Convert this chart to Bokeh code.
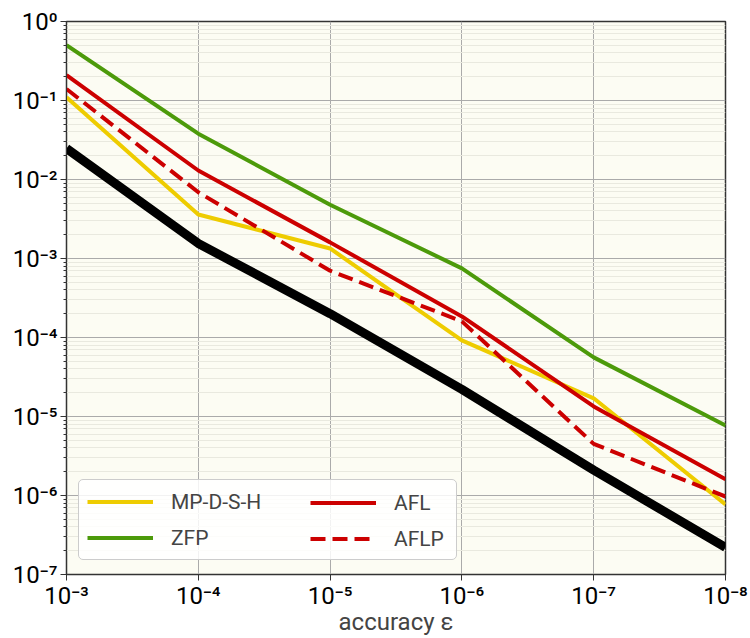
from bokeh.plotting import figure
from bokeh.models import Range1d, FixedTicker, Legend, LegendItem
from bokeh.embed import file_html
from bokeh.resources import INLINE

eps = [1e-3, 1e-4, 1e-5, 1e-6, 1e-7, 1e-8]
ref_line = [2.47e-2, 1.55e-3, 2.0e-4, 2.2e-5, 2.1e-6, 2.2e-7]
mpdsh = [1.1e-1, 3.6e-3, 1.34e-3, 9.2e-5, 1.7e-5, 7.7e-7]
zfp = [5.0e-1, 3.8e-2, 4.8e-3, 7.5e-4, 5.6e-5, 7.7e-6]
afl = [2.1e-1, 1.3e-2, 1.6e-3, 1.85e-4, 1.34e-5, 1.6e-6]
aflp = [1.4e-1, 6.9e-3, 7.0e-4, 1.6e-4, 4.5e-6, 9.7e-7]

x_ticks = [1e-3, 1e-4, 1e-5, 1e-6, 1e-7, 1e-8]
x_labels = ["10⁻³", "10⁻⁴", "10⁻⁵", "10⁻⁶", "10⁻⁷", "10⁻⁸"]
y_ticks = [1e0, 1e-1, 1e-2, 1e-3, 1e-4, 1e-5, 1e-6, 1e-7]
y_labels = ["10⁰", "10⁻¹", "10⁻²", "10⁻³", "10⁻⁴", "10⁻⁵", "10⁻⁶", "10⁻⁷"]
y_minor = [m * 10.0 ** e for e in range(-7, 0) for m in range(2, 10)]

FONT = "Roboto"

p = figure(width=750, height=638, x_axis_type="log", y_axis_type="log",
           x_range=Range1d(1e-3, 1e-8), y_range=Range1d(1e-7, 1e0),
           output_backend="svg", toolbar_location=None,
           min_border_left=66, min_border_right=25, min_border_top=21,
           min_border_bottom=10)
p.background_fill_color = "#fcfcf3"
p.border_fill_color = "white"
p.outline_line_color = "#333333"
p.outline_line_width = 1.5

p.xaxis.ticker = FixedTicker(ticks=x_ticks, minor_ticks=[])
p.yaxis.ticker = FixedTicker(ticks=y_ticks, minor_ticks=y_minor)
p.xaxis.major_label_overrides = {t: l for t, l in zip(x_ticks, x_labels)}
p.yaxis.major_label_overrides = {t: l for t, l in zip(y_ticks, y_labels)}
for ax in (p.xaxis, p.yaxis):
    ax.major_label_text_font = FONT
    ax.major_label_text_font_size = "24px"
    ax.major_label_text_color = "black"
    ax.axis_line_color = "#333333"
    ax.major_tick_line_color = "#333333"
    ax.minor_tick_line_color = "#333333"
    ax.major_tick_out = 6
    ax.major_tick_in = 0
    ax.minor_tick_out = 3
    ax.minor_tick_in = 0
    ax.major_label_standoff = 3
p.xaxis.major_label_standoff = 1
p.xaxis.minor_tick_line_color = None
p.xaxis.axis_label = "accuracy ε"
p.xaxis.axis_label_text_font = FONT
p.xaxis.axis_label_text_font_size = "24px"
p.xaxis.axis_label_text_font_style = "normal"
p.xaxis.axis_label_standoff = -5

p.xgrid.grid_line_color = "#aaaaaa"
p.ygrid.grid_line_color = "#aaaaaa"
p.ygrid.minor_grid_line_color = "#e9e9df"
p.xgrid.minor_grid_line_color = None

p.line(eps, ref_line, line_color="black", line_width=9)
r1 = p.line(eps, mpdsh, line_color="#eecc00", line_width=4)
r2 = p.line(eps, zfp, line_color="#4c9a0a", line_width=4)
r3 = p.line(eps, afl, line_color="#cc0000", line_width=4)
r4 = p.line(eps, aflp, line_color="#cc0000", line_width=4, line_dash="15 7")


def make_legend(items, loc, label_width, standoff, boxed):
    lg = Legend(items=items, location=loc, orientation="vertical")
    lg.label_text_font = FONT
    lg.label_text_font_size = "21px"
    lg.glyph_width = 66
    lg.glyph_height = 27
    lg.label_standoff = standoff
    lg.label_width = label_width
    lg.label_height = 27
    lg.spacing = 9
    lg.padding = 8
    lg.margin = 0
    lg.border_line_color = "#cccccc" if boxed else "white"
    lg.border_line_alpha = 1.0 if boxed else 0.0
    lg.border_radius = 5
    lg.background_fill_color = "white"
    lg.background_fill_alpha = 0.85 if boxed else 0.0
    return lg


leg1 = make_legend([LegendItem(label="MP-D-S-H", renderers=[r1]),
                    LegendItem(label="ZFP", renderers=[r2])],
                   (12, 14), 277, 18, True)
leg2 = make_legend([LegendItem(label="AFL", renderers=[r3]),
                    LegendItem(label="AFLP", renderers=[r4])],
                   (236, 14), 60, 18, False)
p.add_layout(leg1, "center")
p.add_layout(leg2, "center")

open("out.html", "w").write(file_html(p, INLINE))
